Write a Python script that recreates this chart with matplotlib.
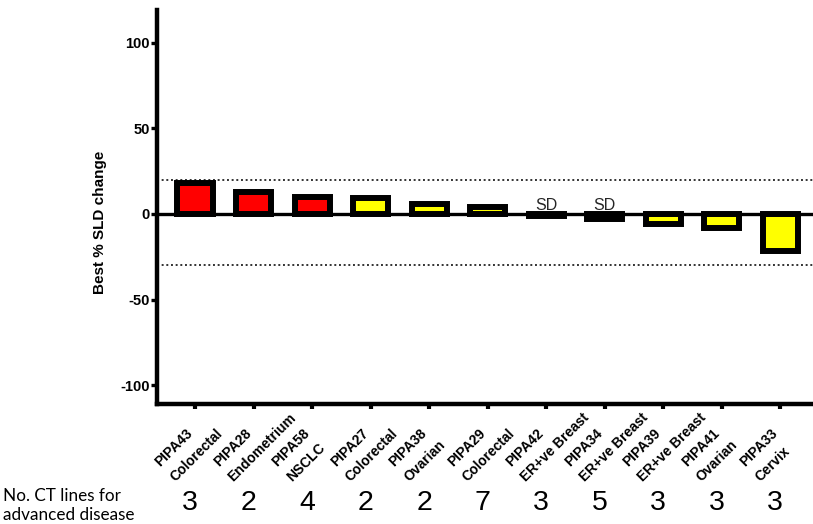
import matplotlib
matplotlib.use("Agg")
import matplotlib.pyplot as plt
from matplotlib import transforms

# Waterfall of best percentage change in sum of longest diameters (SLD)
patients = ["PIPA43", "PIPA28", "PIPA58", "PIPA27", "PIPA38", "PIPA29",
            "PIPA42", "PIPA34", "PIPA39", "PIPA41", "PIPA33"]
tumour_types = ["Colorectal", "Endometrium", "NSCLC", "Colorectal", "Ovarian",
                "Colorectal", "ER+ve Breast", "ER+ve Breast", "ER+ve Breast",
                "Ovarian", "Cervix"]
best_change = [18.1, 12.8, 10.0, 9.0, 5.8, 3.8, -1.3, -3.1, -6.0, -8.5, -21.5]
bar_colors = ["#ff0000", "#ff0000", "#ff0000", "#ffff00", "#ffff00", "#ffff00",
              "#ffff00", "#ffff00", "#ffff00", "#ffff00", "#ffff00"]
bar_notes = ["", "", "", "", "", "", "SD", "SD", "", "", ""]
ct_lines = [3, 2, 4, 2, 2, 7, 3, 5, 3, 3, 3]
y_ticks = [-100, -50, 0, 50, 100]
recist_limits = [20, -30]

plt.rcParams["font.family"] = ["Liberation Sans", "DejaVu Sans"]

fig = plt.figure(figsize=(8.13, 5.24), dpi=100)
ax = fig.add_axes([157 / 813, 120 / 524, 656 / 813, 394 / 524])

x = list(range(len(patients)))
ax.bar(x, best_change, width=0.6, color=bar_colors, edgecolor="black",
       linewidth=4.3, zorder=3)

# zero line and response thresholds
ax.axhline(0, color="black", linewidth=2.4, zorder=4)
for lim in recist_limits:
    ax.axhline(lim, color="#333333", linewidth=1.4,
               linestyle=(0, (1, 1.4)), zorder=2)

for xi, note in zip(x, bar_notes):
    if note:
        ax.text(xi, 2.3, note, ha="center", va="baseline", fontsize=11.5,
                color="#262626", zorder=5)

ax.set_xlim(-0.65, 10.56)
ax.set_ylim(-111, 119)
ax.set_yticks(y_ticks)
ax.set_yticklabels([str(v) for v in y_ticks], fontsize=10.5, fontweight="bold")

for side in ("top", "right"):
    ax.spines[side].set_visible(False)
for side in ("left", "bottom"):
    ax.spines[side].set_linewidth(3.2)

ax.tick_params(axis="y", length=4, width=2.4, pad=1)
ax.tick_params(axis="x", length=3.5, width=3, pad=54)

# two-line patient / tumour labels, slanted, starting left of each tick
ax.set_xticks(x)
xlabels = ax.set_xticklabels(
    [f"{p}\n{t}" for p, t in zip(patients, tumour_types)],
    rotation=45, rotation_mode="anchor", ha="left", va="bottom",
    multialignment="left", fontsize=10, fontweight="bold", linespacing=1.6)
shift = transforms.ScaledTranslation(-0.18, 0, fig.dpi_scale_trans)
for lab in xlabels:
    lab.set_transform(lab.get_transform() + shift)

ax.set_ylabel("Best % SLD change", fontsize=11, fontweight="bold")
ax.yaxis.set_label_coords(-0.0762, 0.462)

# number of prior chemotherapy lines under each patient
trans = transforms.blended_transform_factory(ax.transData, fig.transFigure)
for xi, n in zip(x, ct_lines):
    ax.text(xi - 0.085, 14 / 524, str(n), transform=trans, ha="center",
            va="baseline", fontsize=20.5, clip_on=False)

fig.text(3 / 813, (524 - 500.7) / 524, "No. CT lines for", fontsize=12.3,
         family=["Lato", "DejaVu Sans"], va="baseline", ha="left")
fig.text(3 / 813, (524 - 520) / 524, "advanced disease", fontsize=12.3,
         family=["Lato", "DejaVu Sans"], va="baseline", ha="left")

fig.savefig("out.png", dpi=100)
